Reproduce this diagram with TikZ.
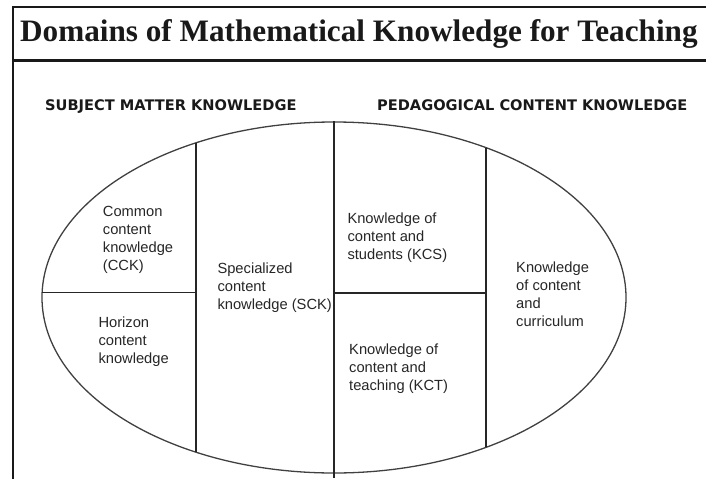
\documentclass[tikz,border=0pt]{standalone}
\usepackage{fontspec}
\setmainfont{Liberation Sans}
\newfontfamily\titlefont{Liberation Serif}
\newfontfamily\headfont{DejaVu Sans}
\usetikzlibrary{shapes}
\tikzstyle{kframe} = [draw, line width=2pt, color=black!90]
\tikzstyle{kline} = [draw, line width=1.3pt, color=black!85]
\tikzstyle{kbox} = [anchor=base west, inner sep=0pt, align=left,
  font=\fontsize{14.7}{18}\selectfont, color=black!85]
\tikzstyle{khead} = [anchor=base west, inner sep=0pt,
  font=\headfont\bfseries\fontsize{14.6}{17}\selectfont, color=black!90]

\begin{document}
\begin{tikzpicture}[x=1pt, y=-1pt]
  \useasboundingbox (0,0) rectangle (706,479);

  \node [anchor=base west, inner sep=0pt, font=\titlefont\bfseries\fontsize{31.2}{36}\selectfont,
    color=black!90] (title) at (20,41) {Domains of Mathematical Knowledge for Teaching};

  \coordinate (tl) at (13,7);
  \coordinate (tr) at (706,7);
  \coordinate (bl) at (13,479);
  \coordinate (rl) at (13,60);
  \coordinate (rr) at (706,60);
  \path [kframe] (tr) -- (tl) -- (bl);
  \path [kframe, line width=3pt] (rl) -- (rr);

  \node [khead] (smk) at (45,110) {SUBJECT MATTER KNOWLEDGE};
  \node [khead] (pck) at (377,110) {PEDAGOGICAL CONTENT KNOWLEDGE};

  \node [ellipse, draw, line width=1.3pt, color=black!75, minimum width=584pt,
    minimum height=351pt, inner sep=0pt] (mkt) at (334,297.5) {};

  \coordinate (a1) at (196,142.8);
  \coordinate (a2) at (196,452.2);
  \coordinate (b2) at (334,478);
  \coordinate (c1) at (486,147.7);
  \coordinate (c2) at (486,447.3);
  \coordinate (h1) at (42.1,292.5);
  \coordinate (h2) at (196,292.5);
  \coordinate (k1) at (334,293);
  \coordinate (k2) at (486,293);

  \path [kline] (a1) -- (a2);
  \path [kline] (mkt.north) -- (b2);
  \path [kline] (c1) -- (c2);
  \path [kline] (h1) -- (h2);
  \path [kline] (k1) -- (k2);

  \node [kbox] (cck) at (102.7,270) {Common\\content\\knowledge\\(CCK)};
  \node [kbox] (hck) at (98.3,363.5) {Horizon\\content\\knowledge};
  \node [kbox] (sck) at (217.3,309.5) {Specialized\\content\\knowledge (SCK)};
  \node [kbox] (kcs) at (347.3,259) {Knowledge of\\content and\\students (KCS)};
  \node [kbox] (kct) at (349,390.5) {Knowledge of\\content and\\teaching (KCT)};
  \node [kbox] (kcc) at (516,326.3) {Knowledge\\of content\\and\\curriculum};

\end{tikzpicture}
\end{document}
